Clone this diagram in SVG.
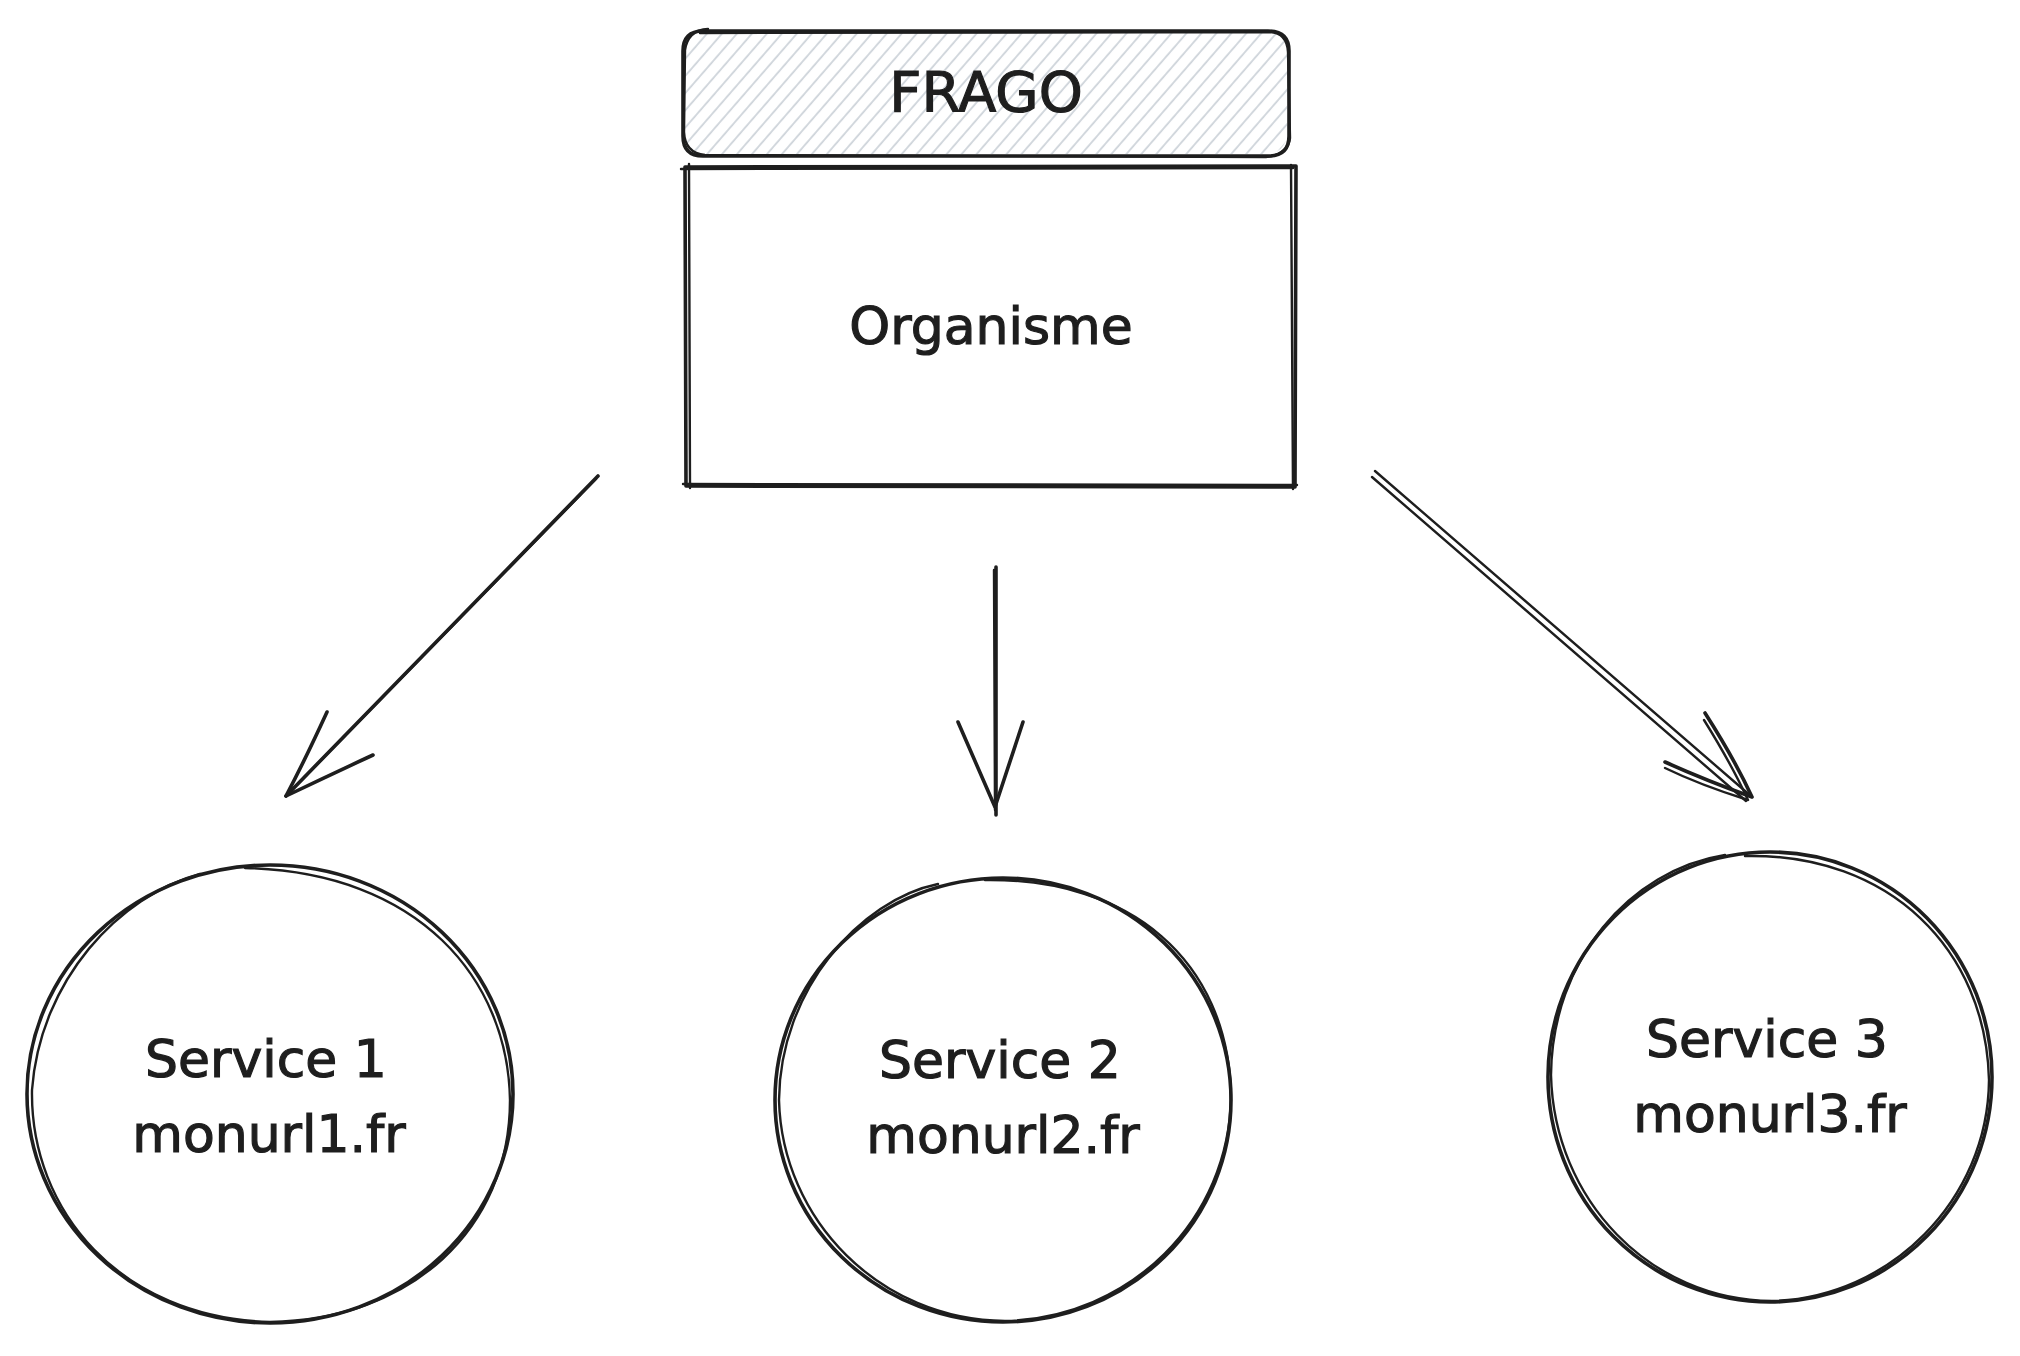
<svg xmlns="http://www.w3.org/2000/svg" width="2020" height="1356" viewBox="0 0 2020 1356">
  <defs>
    <pattern id="hatch" patternUnits="userSpaceOnUse" width="11.3" height="20" patternTransform="rotate(41)">
      <line x1="2" y1="0" x2="2" y2="20" stroke="#ced4da" stroke-width="1.8"/>
    </pattern>
    <clipPath id="fragoClip">
      <rect x="685" y="32" width="602" height="122" rx="20"/>
    </clipPath>
  </defs>
  <style>
    .sk { fill: none; stroke: #1e1e1e; stroke-width: 3.6; stroke-linecap: round; stroke-linejoin: round; }
    .sk2 { fill: none; stroke: #1e1e1e; stroke-width: 2.4; stroke-linecap: round; stroke-linejoin: round; }
    .lbl { font-family: "DejaVu Sans", "Liberation Sans", sans-serif; font-size: 52px; fill: #1e1e1e; stroke: #1e1e1e; stroke-width: 1.2; text-anchor: middle; }
  </style>
  <rect width="2020" height="1356" fill="#ffffff"/>

  <g id="frago">
    <rect x="683" y="30" width="606" height="126" fill="url(#hatch)" clip-path="url(#fragoClip)"/>
    <path class="sk" d="M703 31 L1268 31 Q1289 31 1289 51 L1289 136 Q1289 156 1268 156 L703 156 Q683 156 683 136 L683 51 Q683 31 703 31 Z"/>
    <path class="sk2" d="M700 33 L1270 32 Q1287 33 1288 52 L1290 138 Q1288 155 1266 157 L705 155 Q685 153 684 132 L685 50 Q688 30 708 29"/>
    <text class="lbl" x="986" y="111" style="font-size:56px">FRAGO</text>
  </g>

  <g id="organisme">
    <path class="sk" d="M685 167 L1296 166 L1295 487 L686 486 Z"/>
    <path class="sk2" d="M681 169 L1293 168 M689 164 L690 488 M1291 165 L1293 489 M683 484 L1297 485"/>
    <text class="lbl" x="991" y="344">Organisme</text>
  </g>

  <g id="service1">
    <ellipse class="sk" cx="270" cy="1094" rx="243" ry="229"/>
    <path class="sk2" d="M200 874 C120 895 40 980 32 1090 C30 1210 120 1318 270 1322 C410 1320 510 1230 510 1100 C508 980 420 872 245 868"/>
    <text class="lbl" x="266" y="1077">Service 1</text>
    <text class="lbl" x="269" y="1152">monurl1.fr</text>
  </g>

  <g id="service2">
    <ellipse class="sk" cx="1003" cy="1100" rx="228" ry="222"/>
    <path class="sk2" d="M938 884 C860 900 780 990 779 1100 C782 1220 880 1320 1005 1321 C1130 1318 1230 1220 1231 1095 C1228 960 1130 878 985 880"/>
    <text class="lbl" x="1000" y="1078">Service 2</text>
    <text class="lbl" x="1003" y="1153">monurl2.fr</text>
  </g>

  <g id="service3">
    <ellipse class="sk" cx="1770" cy="1077" rx="222" ry="225"/>
    <path class="sk2" d="M1725 855 C1630 870 1552 960 1551 1075 C1554 1200 1650 1300 1772 1301 C1890 1298 1988 1200 1989 1080 C1986 950 1890 853 1745 856"/>
    <text class="lbl" x="1767" y="1057">Service 3</text>
    <text class="lbl" x="1770" y="1132">monurl3.fr</text>
  </g>

  <g id="connectors">
    <path class="sk" d="M598 476 L286 796"/>
    <path class="sk2" d="M596 479 L288 794"/>
    <path class="sk" d="M327 712 Q305 760 286 796 Q330 775 373 755"/>

    <path class="sk" d="M996 567 L996 815"/>
    <path class="sk2" d="M994 570 L995 810"/>
    <path class="sk" d="M958 722 L995 807 L1023 722"/>

    <path class="sk2" d="M1375 471 L1752 797"/>
    <path class="sk2" d="M1372 477 L1746 801"/>
    <path class="sk" d="M1705 713 Q1735 760 1752 797 Q1705 780 1665 762"/>
    <path class="sk2" d="M1704 720 Q1732 765 1748 800 Q1700 785 1665 768"/>
  </g>
</svg>
